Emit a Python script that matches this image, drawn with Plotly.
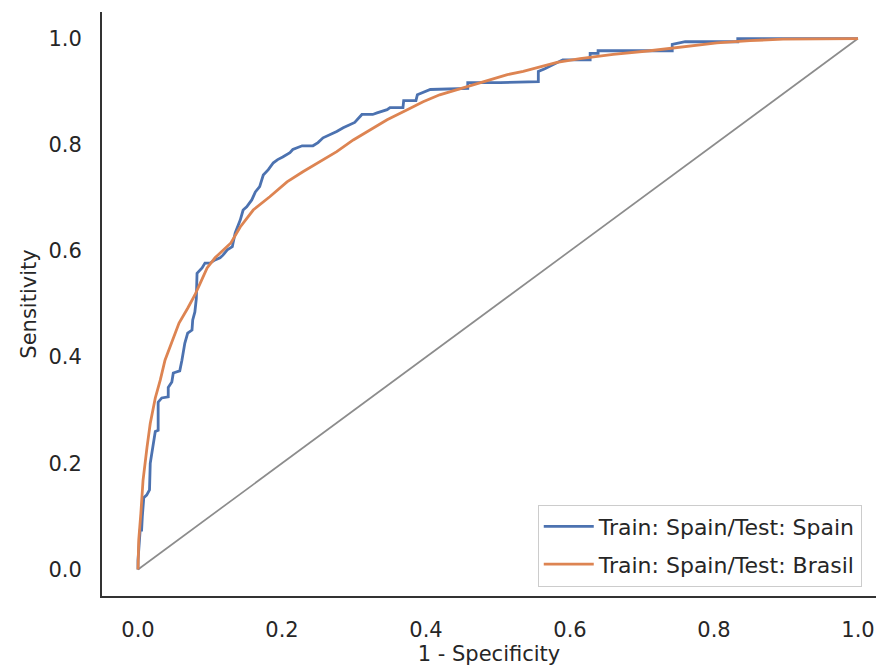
import plotly.graph_objects as go

# ROC curve: Train Spain / Test Spain (stepped)
blue_fpr = [0.000, 0.000, 0.003, 0.005, 0.006, 0.007, 0.008, 0.012, 0.016, 0.017,
            0.019, 0.021, 0.024, 0.028, 0.028, 0.033, 0.042, 0.042, 0.047, 0.049,
            0.058, 0.061, 0.063, 0.065, 0.069, 0.075, 0.076, 0.079, 0.081, 0.082,
            0.089, 0.093, 0.100, 0.107, 0.114, 0.118, 0.124, 0.131, 0.132, 0.135,
            0.142, 0.146, 0.151, 0.158, 0.163, 0.169, 0.174, 0.181, 0.188, 0.194,
            0.201, 0.211, 0.215, 0.228, 0.243, 0.250, 0.257, 0.267, 0.276, 0.285,
            0.294, 0.301, 0.311, 0.326, 0.332, 0.346, 0.350, 0.368, 0.369, 0.386,
            0.388, 0.406, 0.458, 0.458, 0.503, 0.556, 0.556, 0.565, 0.590, 0.628,
            0.628, 0.639, 0.639, 0.742, 0.742, 0.760, 0.833, 0.833, 1.000]
blue_tpr = [0.000, 0.017, 0.074, 0.074, 0.100, 0.125, 0.135, 0.140, 0.150, 0.200,
            0.220, 0.240, 0.260, 0.262, 0.315, 0.323, 0.325, 0.343, 0.353, 0.370,
            0.374, 0.394, 0.409, 0.426, 0.445, 0.451, 0.470, 0.485, 0.510, 0.558,
            0.568, 0.577, 0.577, 0.583, 0.587, 0.592, 0.602, 0.608, 0.615, 0.634,
            0.658, 0.677, 0.683, 0.696, 0.711, 0.721, 0.743, 0.753, 0.766, 0.772,
            0.777, 0.785, 0.791, 0.798, 0.798, 0.804, 0.813, 0.819, 0.825, 0.832,
            0.838, 0.842, 0.857, 0.857, 0.860, 0.866, 0.870, 0.870, 0.883, 0.883,
            0.894, 0.904, 0.906, 0.917, 0.917, 0.919, 0.938, 0.943, 0.960, 0.960,
            0.972, 0.972, 0.977, 0.977, 0.989, 0.994, 0.994, 1.000, 1.000]

# ROC curve: Train Spain / Test Brasil (smooth)
orange_fpr = [0.000, 0.001, 0.004, 0.007, 0.0125, 0.017, 0.024, 0.031, 0.0375, 0.047,
              0.057, 0.069, 0.079, 0.086, 0.096, 0.107, 0.118, 0.129, 0.142, 0.160,
              0.183, 0.207, 0.229, 0.253, 0.276, 0.299, 0.322, 0.346, 0.374, 0.396,
              0.419, 0.443, 0.465, 0.489, 0.513, 0.535, 0.558, 0.582, 0.614, 0.660,
              0.711, 0.757, 0.804, 0.850, 0.896, 1.000]
orange_tpr = [0.000, 0.055, 0.106, 0.168, 0.230, 0.275, 0.323, 0.357, 0.394, 0.430,
              0.464, 0.492, 0.517, 0.538, 0.568, 0.587, 0.602, 0.615, 0.645, 0.677,
              0.702, 0.730, 0.749, 0.768, 0.787, 0.809, 0.828, 0.847, 0.866, 0.881,
              0.894, 0.904, 0.913, 0.923, 0.932, 0.938, 0.947, 0.955, 0.962, 0.970,
              0.977, 0.985, 0.992, 0.996, 0.999, 1.000]

diag = [0.0, 1.0]
tick_vals = [0.0, 0.2, 0.4, 0.6, 0.8, 1.0]
tick_text = ["0.0", "0.2", "0.4", "0.6", "0.8", "1.0"]
series_names = ["Train: Spain/Test: Spain", "Train: Spain/Test: Brasil"]

FONT = "DejaVu Sans"
TXT = "#262626"

fig = go.Figure()
fig.add_trace(go.Scatter(x=diag, y=diag, mode="lines", showlegend=False,
                         line=dict(color="#8c8c8c", width=1.7), hoverinfo="skip"))
fig.add_trace(go.Scatter(x=blue_fpr, y=blue_tpr, mode="lines", name=series_names[0],
                         legendgroup="a", line=dict(color="#4C72B0", width=2.8)))
fig.add_trace(go.Scatter(x=orange_fpr, y=orange_tpr, mode="lines", name=series_names[1],
                         legendgroup="b", line=dict(color="#DD8452", width=2.8)))

axis_common = dict(
    showgrid=False, zeroline=False, showline=True, linecolor="#333333", linewidth=2,
    ticks="outside", ticklen=14, tickcolor="rgba(0,0,0,0)",
    tickvals=tick_vals, ticktext=tick_text,
    tickfont=dict(family=FONT, size=21, color=TXT),
    mirror=False,
)

fig.update_layout(
    width=876, height=670,
    margin=dict(l=102, r=0, t=12, b=74),
    plot_bgcolor="white", paper_bgcolor="white",
    font=dict(family=FONT, size=21, color=TXT),
    xaxis=dict(range=[-0.05, 1.025],
               title=dict(text="1 - Specificity", font=dict(family=FONT, size=21, color=TXT), standoff=4),
               **axis_common),
    yaxis=dict(range=[-0.05, 1.05],
               title=dict(text="Sensitivity", font=dict(family=FONT, size=21, color=TXT), standoff=6),
               **axis_common),
    legend=dict(x=0.563, y=0.016, xanchor="left", yanchor="bottom",
                bgcolor="rgba(255,255,255,0.85)", bordercolor="#cccccc", borderwidth=1,
                font=dict(family=FONT, size=22, color=TXT),
                traceorder="grouped", tracegroupgap=6, itemwidth=50),
    showlegend=True,
)

fig.write_html("out.html")
